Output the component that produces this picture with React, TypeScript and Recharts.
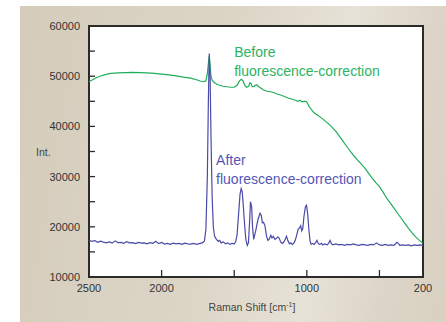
import { LineChart, Line, XAxis, YAxis, CartesianGrid, ReferenceDot, ReferenceArea } from "recharts";

// Raman shift [cm-1], intensity
const beforeSpectrum: [number, number][] = [
  [2500, 48900], [2475, 49300], [2450, 49700], [2425, 50000], [2400, 50200],
  [2375, 50400], [2350, 50550], [2300, 50650], [2250, 50700], [2200, 50750],
  [2150, 50700], [2100, 50650], [2050, 50550], [2000, 50400], [1950, 50250],
  [1900, 50050], [1850, 49800], [1800, 49600], [1760, 49300], [1730, 49000],
  [1710, 48900], [1695, 49100], [1685, 50500], [1678, 52500], [1672, 54000],
  [1666, 52000], [1660, 50000], [1652, 49200], [1640, 48800], [1620, 48400],
  [1600, 48200], [1575, 48000], [1550, 47900], [1525, 47800], [1500, 47800],
  [1480, 48200], [1465, 49000], [1452, 49400], [1440, 49100], [1428, 48200],
  [1415, 47800], [1400, 48000], [1392, 48700], [1384, 48500], [1375, 47900],
  [1365, 47900], [1355, 48200], [1345, 48300], [1335, 48000], [1320, 47700],
  [1300, 47300], [1275, 47000], [1250, 46900], [1225, 46700], [1200, 46400],
  [1175, 46200], [1150, 45900], [1125, 45600], [1100, 45400], [1080, 45200],
  [1060, 45000], [1045, 45200], [1035, 44900], [1020, 45000], [1005, 45000],
  [995, 44600], [985, 44000], [970, 43400], [950, 42700], [925, 42200],
  [900, 41700], [875, 41100], [850, 40500], [825, 39800], [800, 39000],
  [775, 38000], [750, 37000], [725, 36000], [700, 35000], [675, 34100],
  [650, 33300], [625, 32500], [600, 31700], [575, 30700], [550, 29700],
  [525, 28800], [500, 28000], [475, 26900], [450, 25700], [425, 24700],
  [400, 23700], [375, 22700], [350, 21700], [325, 20700], [300, 19700],
  [275, 18800], [250, 18000], [225, 17300], [200, 16700],
];

const afterSpectrum: [number, number][] = [
  [2500, 17300], [2480, 17100], [2460, 17250], [2440, 16900], [2420, 17150],
  [2400, 16950], [2380, 16800], [2360, 17000], [2340, 16750], [2320, 17200],
  [2300, 16850], [2280, 16900], [2260, 16700], [2240, 17050], [2220, 16800],
  [2200, 16850], [2180, 16650], [2160, 16900], [2140, 16750], [2120, 16800],
  [2100, 16600], [2080, 16850], [2060, 16700], [2040, 17100], [2020, 16650],
  [2000, 16900], [1980, 16550], [1960, 16700], [1940, 16500], [1920, 16750],
  [1900, 16600], [1880, 16700], [1860, 16500], [1840, 16750], [1820, 16600],
  [1800, 16550], [1780, 16700], [1760, 16500], [1740, 16650], [1720, 16800],
  [1705, 17200], [1695, 19500], [1685, 30000], [1678, 45000], [1672, 54500],
  [1666, 50000], [1660, 38000], [1652, 26000], [1644, 20000], [1636, 18200],
  [1625, 17600], [1610, 17100], [1600, 17300], [1590, 16800], [1575, 17000],
  [1560, 16600], [1545, 16800], [1530, 16500], [1515, 16700], [1500, 16600],
  [1490, 17000], [1480, 18500], [1470, 22500], [1460, 26500], [1452, 27600],
  [1445, 27000], [1438, 24500], [1430, 21000], [1420, 17500], [1410, 16300],
  [1402, 16800], [1395, 20500], [1388, 25000], [1380, 24000], [1374, 20000],
  [1366, 17500], [1358, 18500], [1350, 19500], [1336, 21500], [1322, 22700],
  [1314, 22300], [1306, 20800], [1298, 20900], [1288, 20200], [1278, 18200],
  [1268, 17300], [1258, 17600], [1248, 18300], [1240, 17800], [1231, 18100],
  [1220, 17500], [1210, 17700], [1200, 18000], [1190, 17700], [1180, 17000],
  [1170, 16700], [1160, 16900], [1150, 17400], [1140, 18100], [1130, 17200],
  [1120, 16600], [1110, 16800], [1100, 16500], [1090, 16700], [1080, 17300],
  [1070, 18300], [1060, 19500], [1050, 19800], [1042, 20200], [1035, 19200],
  [1028, 19600], [1020, 22000], [1010, 24000], [1002, 24300], [994, 22500],
  [986, 19500], [978, 17200], [970, 16500], [960, 16700], [950, 16500],
  [940, 16800], [930, 17300], [920, 16600], [910, 16500], [900, 16700],
  [890, 16400], [880, 16600], [870, 16500], [860, 16400], [850, 16700],
  [840, 17300], [830, 16600], [820, 16400], [800, 16600], [780, 16400],
  [760, 16500], [740, 16300], [720, 16500], [700, 16400], [680, 16600],
  [660, 16400], [640, 16300], [620, 16500], [600, 16400], [580, 16300],
  [560, 16500], [540, 16400], [520, 16800], [500, 16400], [480, 16300],
  [460, 16500], [440, 16300], [420, 16400], [400, 16300], [380, 16900],
  [370, 16700], [360, 16300], [340, 16400], [320, 16300], [300, 16400],
  [280, 16200], [260, 16400], [240, 16300], [220, 16400], [200, 16300],
];

const xTicks = [2500, 2000, 1500, 1000, 500, 200];
const xTickLabels = [2500, 2000, 1000, 200];
const yTicks = [10000, 15000, 20000, 25000, 30000, 35000, 40000, 45000, 50000, 55000, 60000];

const beforeData = beforeSpectrum.map(([shift, value]) => ({ shift, value }));
const afterData = afterSpectrum.map(([shift, value]) => ({ shift, value }));

const FONT = "'Liberation Sans', Arial, sans-serif";
const AXIS = "#2b2b2b";

function XTick({ x, y, payload }: any) {
  const v = payload.value;
  const inner = v !== 2500 && v !== 200;
  return (
    <g>
      {inner && <line x1={x} y1={y} x2={x} y2={y - 7} stroke={AXIS} strokeWidth={1.3} />}
      {xTickLabels.includes(v) && (
        <text x={x} y={y + 15} textAnchor="middle" fontSize={11} fill="#333" fontFamily={FONT}>
          {v}
        </text>
      )}
    </g>
  );
}

function YTick({ x, y, payload }: any) {
  const v = payload.value;
  const inner = v !== 10000 && v !== 60000;
  return (
    <g>
      {inner && <line x1={x} y1={y} x2={x + 6} y2={y} stroke={AXIS} strokeWidth={1.3} />}
      {v % 10000 === 0 && (
        <text x={x - 9} y={y + 4} textAnchor="end" fontSize={11} fill="#333" fontFamily={FONT}>
          {v}
        </text>
      )}
    </g>
  );
}

function Note({ cx, cy, lines, color }: any) {
  return (
    <text x={cx} y={cy} fontSize={14} fill={color} fontFamily={FONT}>
      {lines.map((l: string, i: number) => (
        <tspan key={i} x={cx} dy={i === 0 ? 0 : 19}>
          {l}
        </tspan>
      ))}
    </text>
  );
}

export default function App() {
  return (
    <div style={{ position: "absolute", left: 0, top: 0, width: 446, height: 322, background: "#fff" }}>
      <div
        style={{
          position: "absolute",
          left: 20,
          top: 6,
          right: 0,
          bottom: 0,
          background: "linear-gradient(100deg, #d5ccbb 0%, #dcd5c6 45%, #e7e2d7 70%, #ddd6c8 85%, #d8d0c1 100%)",
        }}
      />
      <div style={{ position: "absolute", left: 0, top: 0 }}>
        <LineChart width={446} height={322} margin={{ top: 26, right: 23, bottom: 0, left: 0 }}>
          <CartesianGrid horizontal={false} vertical={false} fill="#fff" />
          <XAxis
            dataKey="shift"
            type="number"
            domain={[200, 2500]}
            reversed
            allowDataOverflow
            ticks={xTicks}
            interval={0}
            height={45}
            tickSize={0}
            tickMargin={0}
            axisLine={false}
            tick={<XTick />}
            label={{
              content: ({ viewBox }: any) => (
                <text
                  x={viewBox.x + viewBox.width / 2 - 4}
                  y={viewBox.y + 34}
                  textAnchor="middle"
                  fontSize={10.5}
                  fill="#444"
                  fontFamily={FONT}
                >
                  Raman Shift [cm
                  <tspan fontSize={7} dy={-4}>-1</tspan>
                  <tspan dy={4}>]</tspan>
                </text>
              ),
            }}
          />
          <YAxis
            type="number"
            domain={[10000, 60000]}
            allowDataOverflow
            ticks={yTicks}
            interval={0}
            width={89}
            tickSize={0}
            tickMargin={0}
            axisLine={false}
            tick={<YTick />}
            label={{
              content: ({ viewBox }: any) => (
                <text
                  x={viewBox.x + 36}
                  y={viewBox.y + viewBox.height / 2 + 4}
                  fontSize={10.5}
                  fill="#444"
                  fontFamily={FONT}
                >
                  Int.
                </text>
              ),
            }}
          />
          <Line
            data={beforeData}
            dataKey="value"
            type="linear"
            stroke="#1fae5b"
            strokeWidth={1.2}
            dot={false}
            isAnimationActive={false}
          />
          <Line
            data={afterData}
            dataKey="value"
            type="linear"
            stroke="#4a4aa8"
            strokeWidth={1.2}
            dot={false}
            isAnimationActive={false}
          />
          <ReferenceArea
            x1={2500}
            x2={200}
            y1={10000}
            y2={60000}
            ifOverflow="visible"
            fill="none"
            fillOpacity={0}
            stroke={AXIS}
            strokeWidth={2}
          />
          <ReferenceDot
            x={1500}
            y={53800}
            r={0}
            shape={(p: any) => (
              <Note cx={p.cx} cy={p.cy} color="#2bb363" lines={["Before", "fluorescence-correction"]} />
            )}
          />
          <ReferenceDot
            x={1625}
            y={32300}
            r={0}
            shape={(p: any) => (
              <Note cx={p.cx} cy={p.cy} color="#5656b4" lines={["After", "fluorescence-correction"]} />
            )}
          />
        </LineChart>
      </div>
    </div>
  );
}
